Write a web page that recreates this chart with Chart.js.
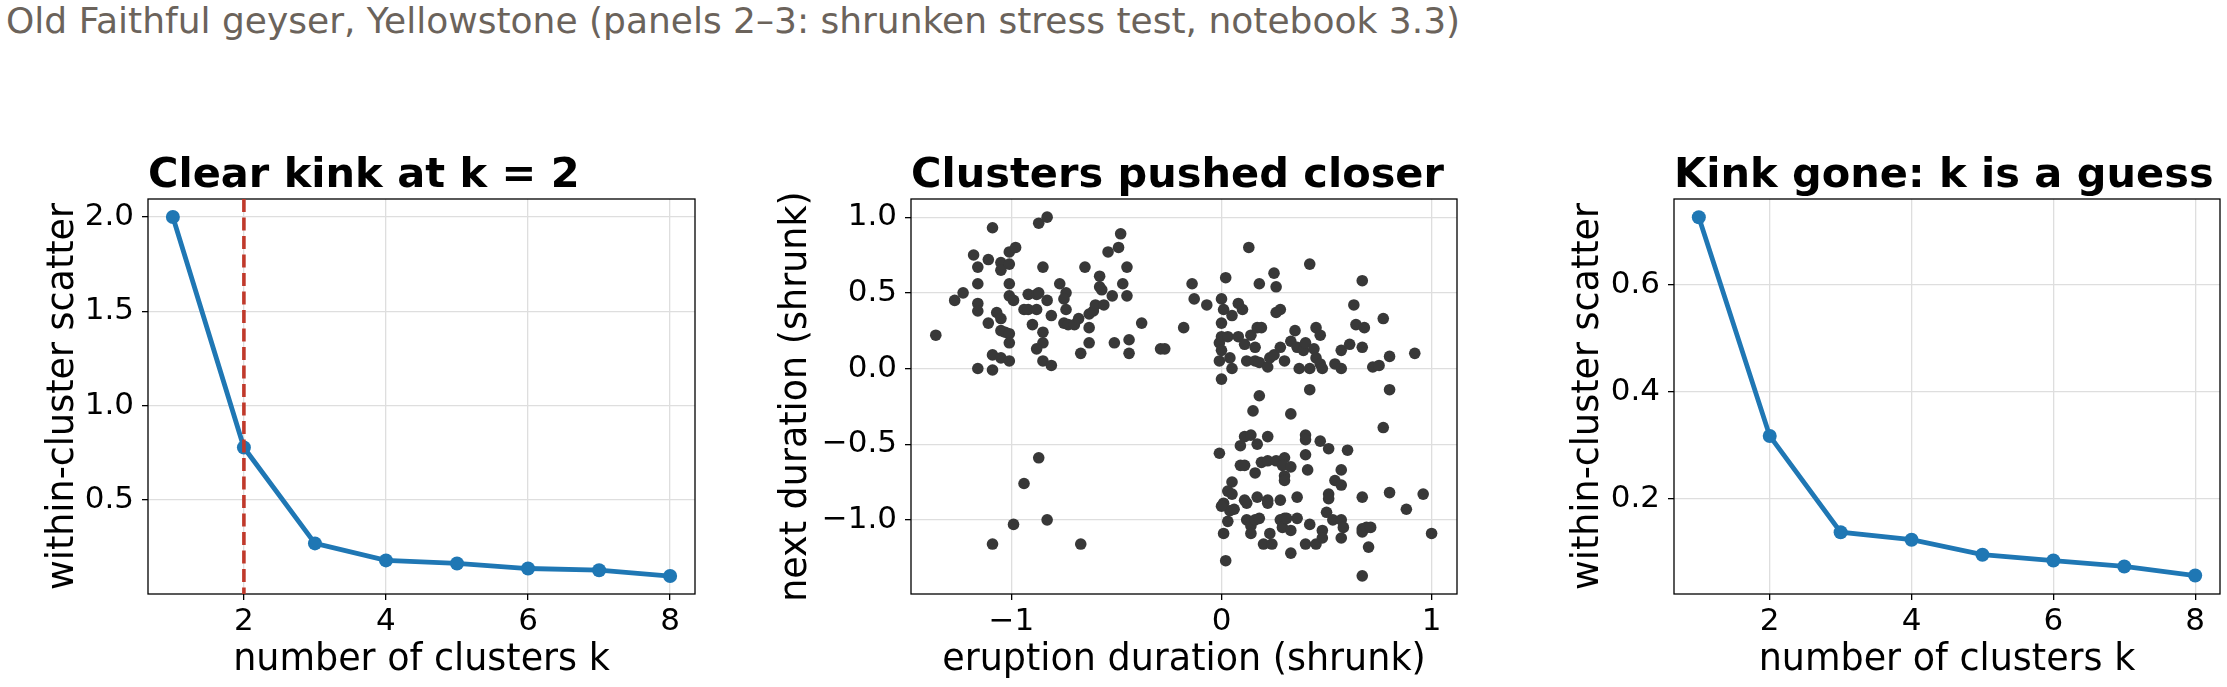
<!DOCTYPE html>
<html>
<head>
<meta charset="utf-8">
<script src="https://cdn.jsdelivr.net/npm/chart.js@4.4.1/dist/chart.umd.min.js"></script>
<style>
  html, body { margin: 0; padding: 0; background: #fff; }
  body { width: 2227px; height: 687px; position: relative; overflow: hidden; }
  canvas { position: absolute; top: 0; }
  #suptitle { position: absolute; left: 6px; top: 3px; font: 36px/36px "DejaVu Sans"; color: #6b635b; white-space: nowrap; }
</style>
</head>
<body>
<div id="suptitle">Old Faithful geyser, Yellowstone (panels 2–3: shrunken stress test, notebook 3.3)</div>
<canvas id="elbowA" width="760" height="687" style="left:0px"></canvas>
<canvas id="scatterB" width="780" height="687" style="left:740px"></canvas>
<canvas id="elbowC" width="727" height="687" style="left:1500px"></canvas>
<script>
// elbow curves (k = 1..8)
const kValues = [1, 2, 3, 4, 5, 6, 7, 8];
const scatterOriginal = [2.0, 0.778, 0.270, 0.180, 0.164, 0.137, 0.128, 0.097];
const scatterShrunk = [0.727, 0.318, 0.138, 0.124, 0.096, 0.085, 0.074, 0.057];
const kinkK = 2;

// tick labels
const kTicks = [2, 4, 6, 8];
const yTicksA = [0.5, 1.0, 1.5, 2.0];
const yTicksC = [0.2, 0.4, 0.6];
const xTicksB = [-1, 0, 1];
const yTicksB = [-1.0, -0.5, 0.0, 0.5, 1.0];

// shrunken eruption / next duration pairs
const shrunkPoints = [
  [-1.36,0.22],[-1.27,0.45],[-1.23,0.50],[-1.18,0.75],[-1.16,0.67],[-1.16,0.56],[-1.16,0.43],[-1.16,0.38],
  [-1.16,0.00],[-1.11,0.72],[-1.11,0.30],[-1.09,0.93],[-1.09,0.09],[-1.09,-0.01],[-1.05,0.70],[-1.05,0.65],
  [-1.05,0.07],[-1.07,0.37],[-1.05,0.33],[-1.05,0.25],[-1.03,0.24],[-1.01,0.77],[-0.98,0.80],[-1.01,0.69],
  [-1.01,0.56],[-1.01,0.48],[-0.99,0.45],[-1.01,0.23],[-1.01,0.17],[-1.01,0.05],[-0.87,0.96],[-0.83,1.00],
  [-0.85,0.67],[-0.92,0.49],[-0.88,0.49],[-0.87,0.50],[-0.94,0.39],[-0.92,0.39],[-0.88,0.39],[-0.83,0.45],
  [-0.81,0.35],[-0.90,0.29],[-0.85,0.24],[-0.85,0.17],[-0.88,0.13],[-0.85,0.05],[-0.81,0.02],[-0.77,0.56],
  [-0.74,0.50],[-0.75,0.46],[-0.74,0.39],[-0.75,0.30],[-0.73,0.29],[-0.70,0.29],[-0.68,0.33],[-0.65,0.67],
  [-0.67,0.10],[-0.63,0.36],[-0.61,0.38],[-0.60,0.42],[-0.63,0.27],[-0.63,0.17],[-0.58,0.61],[-0.58,0.54],
  [-0.57,0.52],[-0.56,0.42],[-0.54,0.77],[-0.52,0.48],[-0.51,0.17],[-0.49,0.80],[-0.48,0.89],[-0.47,0.56],
  [-0.45,0.67],[-0.45,0.48],[-0.44,0.19],[-0.44,0.10],[-0.38,0.30],[-0.29,0.13],[-0.27,0.13],[-0.18,0.27],
  [-0.14,0.56],[-0.13,0.46],[-0.07,0.42],[0.00,0.46],[0.01,0.39],[0.00,0.30],[0.02,0.60],[0.00,0.21],
  [-0.01,0.17],[0.00,0.12],[-0.01,0.05],[0.00,-0.07],[0.04,0.07],[0.05,0.00],[0.03,0.21],[0.08,0.43],
  [0.10,0.39],[0.05,0.35],[0.08,0.21],[0.11,0.16],[0.12,0.05],[0.13,0.80],[0.14,0.22],[0.16,0.14],
  [0.16,0.05],[0.18,0.04],[0.17,0.27],[0.19,0.27],[0.18,0.56],[0.25,0.63],[0.26,0.54],[0.28,0.39],
  [0.26,0.37],[0.22,0.01],[0.23,0.07],[0.25,0.09],[0.28,0.14],[0.30,0.05],[0.33,0.18],[0.35,0.25],
  [0.36,0.14],[0.37,0.00],[0.39,0.12],[0.40,0.17],[0.42,0.00],[0.42,0.69],[0.44,0.13],[0.45,0.27],
  [0.47,0.22],[0.45,0.07],[0.47,0.03],[0.48,0.00],[0.42,-0.14],[0.18,-0.18],[0.54,0.03],[0.57,0.00],
  [0.57,0.12],[0.61,0.16],[0.63,0.42],[0.64,0.29],[0.68,0.27],[0.67,0.58],[0.67,0.14],[0.72,0.01],
  [0.75,0.02],[0.77,0.33],[0.80,0.08],[0.80,-0.14],[0.92,0.10],
  [-0.87,-0.59],[-0.94,-0.76],[-0.99,-1.03],[-0.83,-1.00],[-1.09,-1.16],[-0.67,-1.16],
  [0.15,-0.28],[0.33,-0.30],[0.77,-0.39],[0.11,-0.45],[0.14,-0.44],[0.09,-0.51],[0.17,-0.50],[0.22,-0.45],
  [0.40,-0.44],[0.40,-0.47],[0.47,-0.48],[0.51,-0.53],[0.60,-0.54],[-0.01,-0.56],[0.40,-0.57],[0.09,-0.64],
  [0.11,-0.64],[0.19,-0.62],[0.22,-0.61],[0.26,-0.61],[0.30,-0.59],[0.29,-0.64],[0.33,-0.65],[0.41,-0.67],
  [0.16,-0.69],[0.30,-0.71],[0.30,-0.74],[0.57,-0.67],[0.54,-0.74],[0.57,-0.77],[0.05,-0.75],[0.03,-0.81],
  [0.05,-0.83],[0.01,-0.89],[0.04,-0.94],[0.06,-0.93],[0.11,-0.87],[0.12,-0.89],[0.17,-0.85],[0.22,-0.87],
  [0.22,-0.89],[0.28,-0.87],[0.36,-0.85],[0.51,-0.83],[0.51,-0.86],[0.67,-0.85],[0.80,-0.82],[0.96,-0.83],
  [0.88,-0.93],[0.03,-1.01],[0.01,-1.09],[0.02,-1.27],[0.12,-1.00],[0.14,-1.04],[0.14,-1.09],[0.16,-1.00],
  [0.18,-0.99],[0.20,-1.16],[0.24,-1.16],[0.23,-1.09],[0.28,-1.00],[0.29,-1.05],[0.30,-0.99],[0.31,-0.99],
  [0.33,-1.07],[0.33,-1.22],[0.36,-0.99],[0.40,-1.16],[0.42,-1.03],[0.45,-1.16],[0.48,-1.07],[0.48,-1.12],
  [0.50,-0.95],[0.53,-1.00],[0.57,-1.00],[0.58,-1.05],[0.57,-1.12],[0.67,-1.06],[0.67,-1.08],[0.69,-1.05],
  [0.71,-1.05],[0.70,-1.18],[0.67,-1.37],[1.00,-1.09],[0.00,-0.91]
];

Chart.defaults.font.family = '"DejaVu Sans", sans-serif';
Chart.defaults.color = '#000';

const minus = s => s.replace('-', '\u2212');
const oneDecimal = v => minus(Number(v).toFixed(1));
const whole = v => minus(String(v));

// matplotlib draws a box round every axes
const framePlugin = {
  id: 'frame',
  afterDatasetsDraw(chart) {
    const {ctx, chartArea: a} = chart;
    ctx.save();
    ctx.strokeStyle = '#000';
    ctx.lineWidth = 1.3;
    ctx.strokeRect(a.left, a.top, a.right - a.left, a.bottom - a.top);
    ctx.restore();
  }
};

const kinkPlugin = {
  id: 'kink',
  afterDatasetsDraw(chart) {
    const {ctx, chartArea: a} = chart;
    const x = chart.scales.x.getPixelForValue(kinkK);
    ctx.save();
    ctx.strokeStyle = '#c0392b';
    ctx.lineWidth = 3.6;
    ctx.setLineDash([13, 5.5]);
    ctx.beginPath();
    ctx.moveTo(x, a.top);
    ctx.lineTo(x, a.bottom);
    ctx.stroke();
    ctx.restore();
  }
};

function axis(o) {
  return {
    type: 'linear',
    min: o.min,
    max: o.max,
    afterBuildTicks: s => { s.ticks = o.ticks.map(v => ({value: v})); },
    afterFit: s => { if (o.width) s.width = o.width; if (o.height) s.height = o.height; },
    ticks: { callback: o.fmt, font: { size: 31, lineHeight: 1.2 }, color: '#000', padding: o.tickPad },
    grid: { color: '#dedede', lineWidth: 1.3, tickColor: '#000', tickLength: 6, tickWidth: 1.3 },
    border: { display: false },
    title: { display: true, text: o.title, color: '#000', font: { size: 36.5, lineHeight: 1.2 }, padding: o.titlePad }
  };
}

function panel(id, cfg) {
  return new Chart(document.getElementById(id), {
    type: 'scatter',
    data: { datasets: cfg.datasets },
    options: {
      responsive: false,
      animation: false,
      layout: { padding: { left: 0, right: cfg.padRight, top: 0, bottom: 0 } },
      plugins: {
        legend: { display: false },
        tooltip: { enabled: false },
        title: {
          display: true, text: cfg.title, align: 'start', fullSize: false, color: '#000',
          font: { size: 41.5, weight: 'bold', lineHeight: 1 },
          padding: { top: 155, bottom: 2.5 }
        }
      },
      scales: {
        x: axis({ min: cfg.xMin, max: cfg.xMax, ticks: cfg.xTicks, fmt: cfg.xFmt, height: 93, tickPad: 3,
                  title: cfg.xTitle, titlePad: { top: 0, bottom: 5 } }),
        y: axis({ min: cfg.yMin, max: cfg.yMax, ticks: cfg.yTicks, fmt: cfg.yFmt, width: cfg.yWidth, tickPad: 8,
                  title: cfg.yTitle, titlePad: { top: cfg.yTitlePad, bottom: 0 } })
      }
    },
    plugins: cfg.plugins
  });
}

function elbowSet(values) {
  return {
    data: kValues.map((k, i) => ({x: k, y: values[i]})),
    showLine: true,
    borderColor: '#1f77b4',
    backgroundColor: '#1f77b4',
    borderWidth: 4.8,
    pointRadius: 7,
    pointBorderWidth: 0,
    tension: 0
  };
}

panel('elbowA', {
  title: 'Clear kink at k = 2',
  datasets: [elbowSet(scatterOriginal)],
  xMin: 0.65, xMax: 8.35, xTicks: kTicks, xFmt: whole, xTitle: 'number of clusters k',
  yMin: 0.002, yMax: 2.095, yTicks: yTicksA, yFmt: oneDecimal, yTitle: 'within-cluster scatter',
  yWidth: 148, yTitlePad: 42, padRight: 65,
  plugins: [framePlugin, kinkPlugin]
});

panel('scatterB', {
  title: 'Clusters pushed closer',
  datasets: [{
    data: shrunkPoints.map(p => ({x: p[0], y: p[1]})),
    backgroundColor: '#383838',
    pointRadius: 5.8,
    pointBorderWidth: 0
  }],
  xMin: -1.478, xMax: 1.121, xTicks: xTicksB, xFmt: whole, xTitle: 'eruption duration (shrunk)',
  yMin: -1.49, yMax: 1.12, yTicks: yTicksB, yFmt: oneDecimal, yTitle: 'next duration (shrunk)',
  yWidth: 171, yTitlePad: 35, padRight: 63,
  plugins: [framePlugin]
});

panel('elbowC', {
  title: 'Kink gone: k is a guess',
  datasets: [elbowSet(scatterShrunk)],
  xMin: 0.65, xMax: 8.35, xTicks: kTicks, xFmt: whole, xTitle: 'number of clusters k',
  yMin: 0.0225, yMax: 0.761, yTicks: yTicksC, yFmt: oneDecimal, yTitle: 'within-cluster scatter',
  yWidth: 174, yTitlePad: 67, padRight: 6,
  plugins: [framePlugin]
});
</script>
</body>
</html>
